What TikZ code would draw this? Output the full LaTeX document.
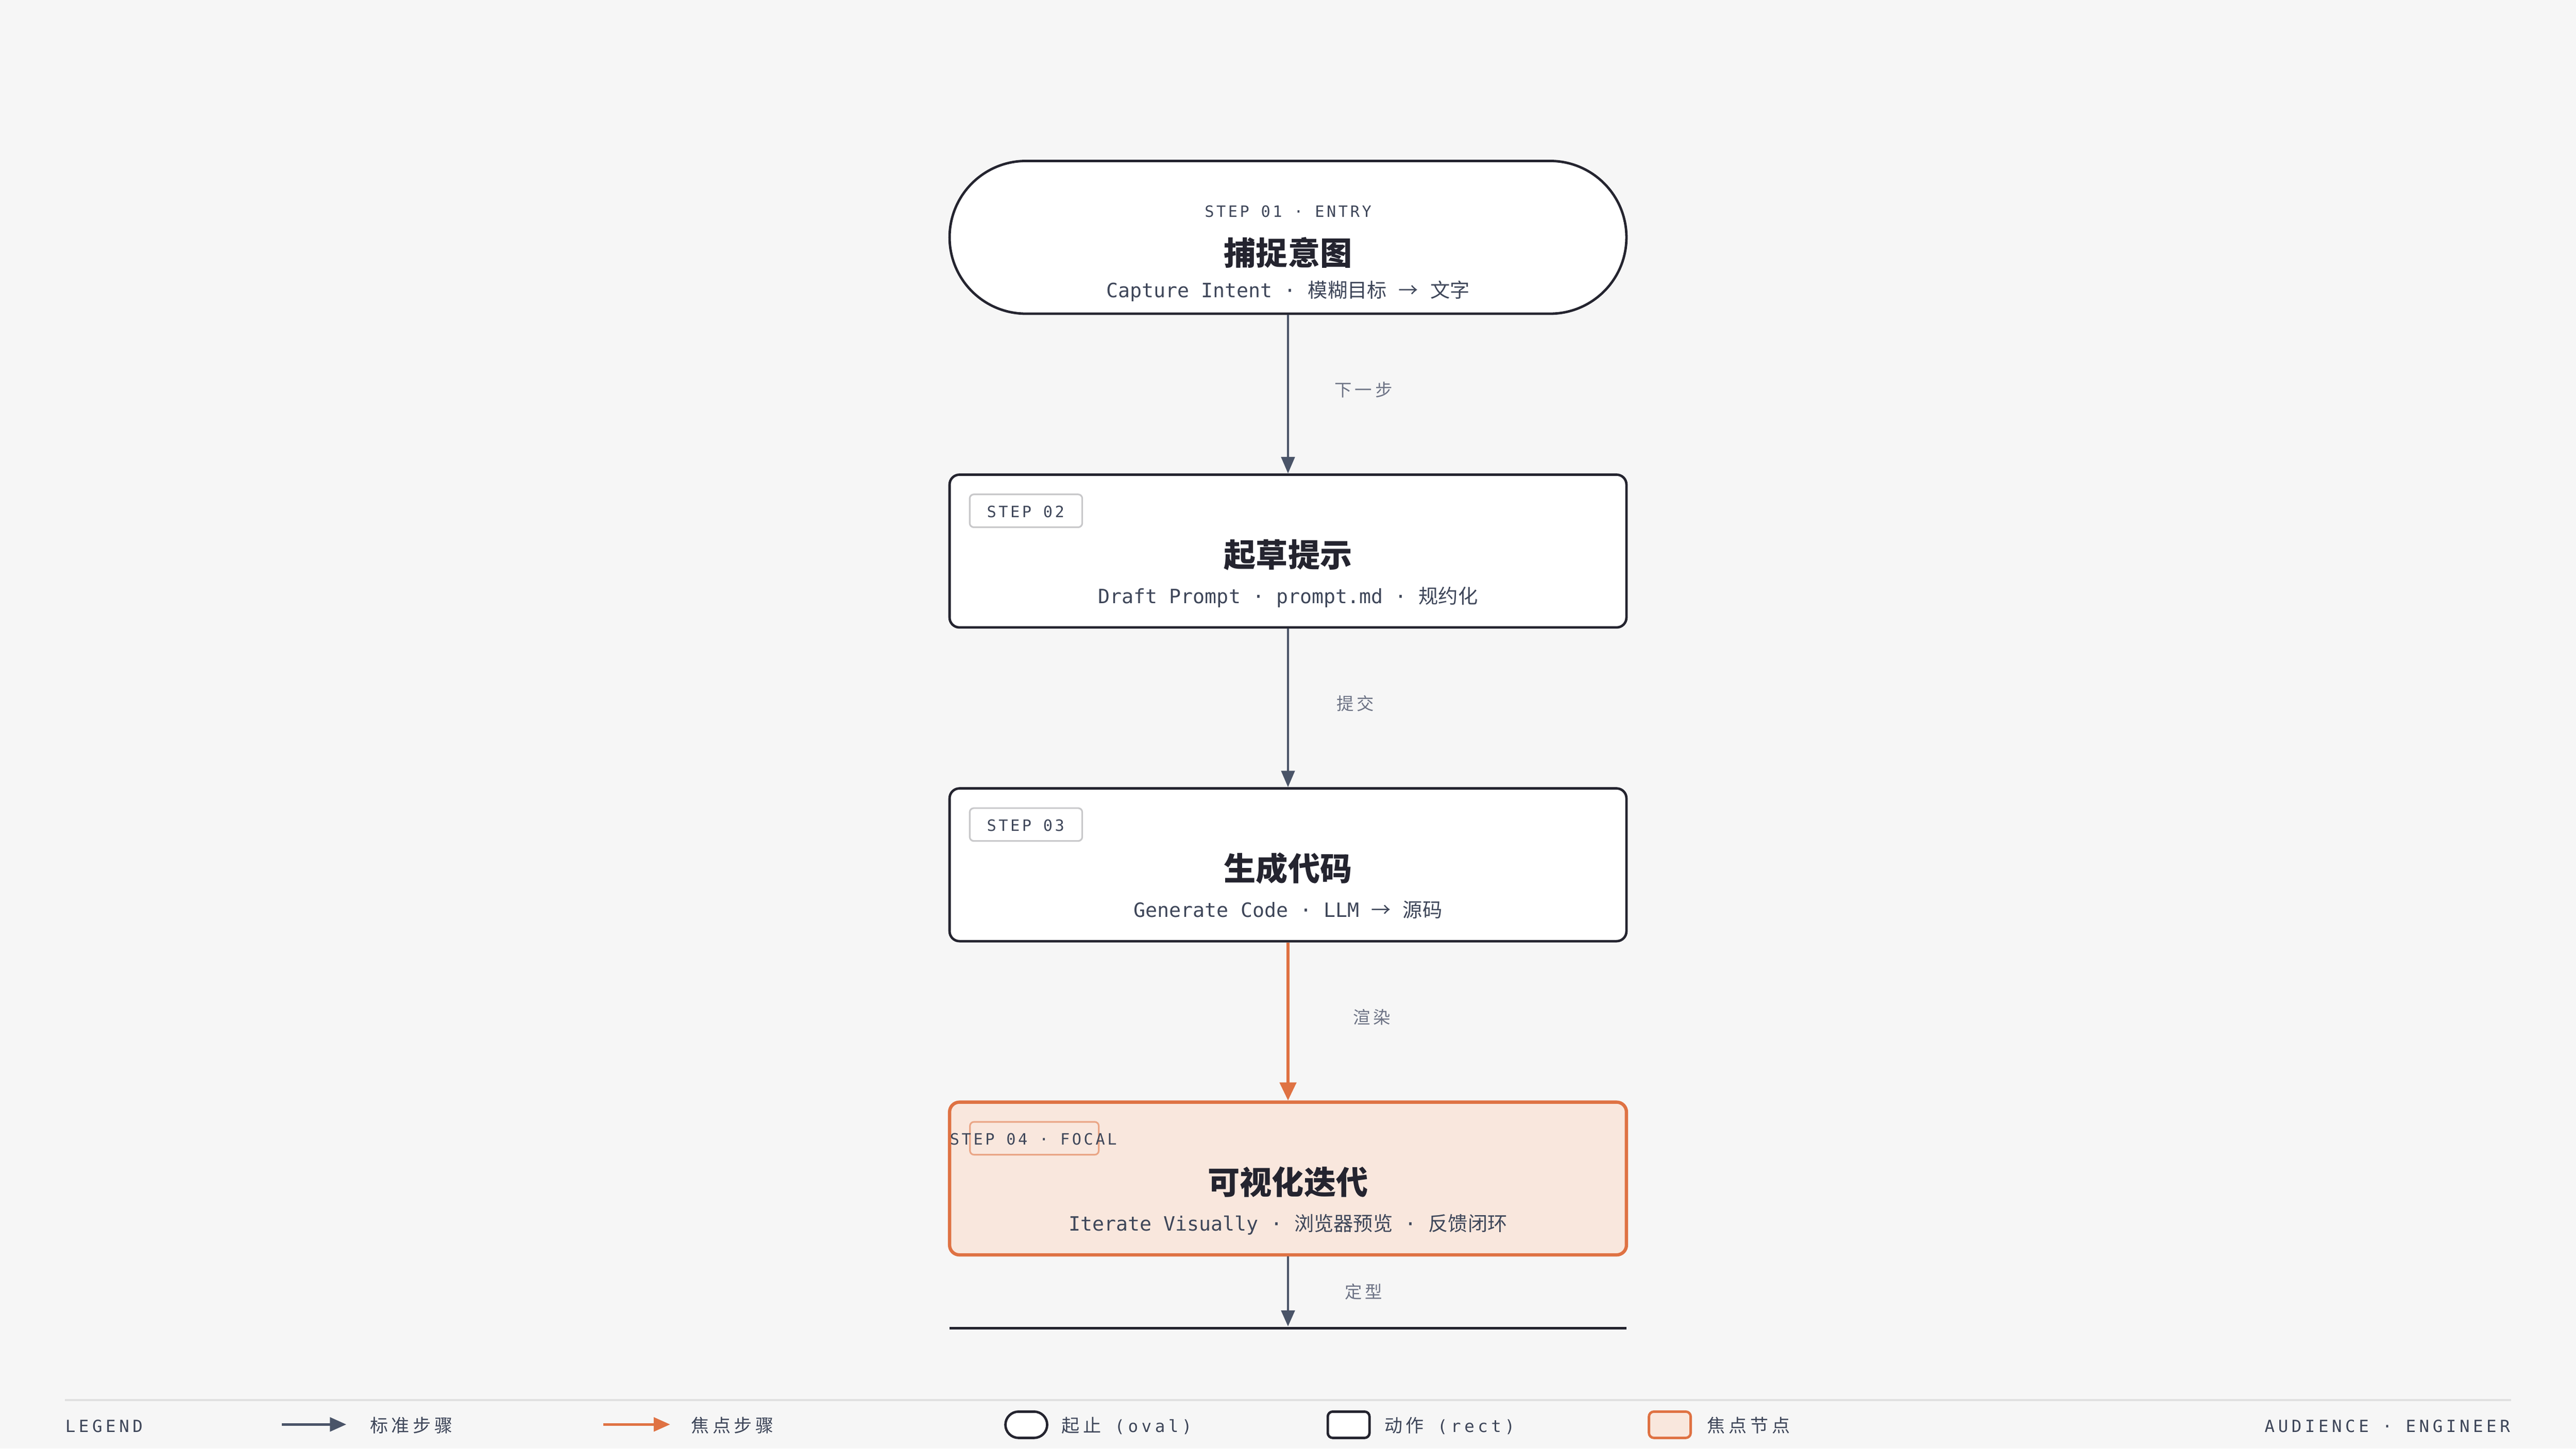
\documentclass[tikz,border=0pt]{standalone}
\usepackage{fontspec}
\usetikzlibrary{arrows.meta}
\setmonofont{DejaVu Sans Mono}
\newfontfamily\cjk{Noto Sans CJK SC}
\newfontfamily\cjkwide[LetterSpace=19]{Noto Sans CJK SC}
\newfontfamily\monowide[LetterSpace=15]{DejaVu Sans Mono}
\newfontfamily\monoleg[LetterSpace=20]{DejaVu Sans Mono}
\newcommand\zh[1]{{\cjk #1}}
\newcommand\legzh[1]{{\cjkwide\fontsize{11}{13}\selectfont #1}}
\definecolor{paper}{HTML}{F6F6F6}
\definecolor{ink}{HTML}{24242F}
\definecolor{slate}{HTML}{4A5468}
\definecolor{subink}{HTML}{3E4659}
\definecolor{mute}{HTML}{6D7385}
\definecolor{focal}{HTML}{DF7243}
\definecolor{peach}{HTML}{F9E7DD}
\definecolor{tagline}{HTML}{C8C8CA}
\definecolor{tagfocal}{HTML}{EAA686}
\definecolor{rulegray}{HTML}{E0E0E0}
\tikzset{
  box/.style={draw=ink, line width=1.5pt, fill=white, minimum width=412pt, minimum height=93pt, inner sep=0pt, rounded corners=6pt},
  ovalbox/.style={box, rounded corners=46.5pt},
  focalbox/.style={box, draw=focal, fill=peach, line width=2pt},
  tagbox/.style={draw=tagline, line width=1pt, fill=white, rounded corners=2.5pt, minimum width=68.5pt, minimum height=20pt, inner sep=0pt},
  tagtext/.style={anchor=base, inner sep=0pt, text=subink, font=\monowide\fontsize{9.5}{11}\selectfont},
  headline/.style={anchor=base, inner sep=0pt, text=ink, font=\cjk\bfseries\fontsize{19.5}{22}\selectfont},
  subline/.style={anchor=base, inner sep=0pt, text=subink, font=\ttfamily\fontsize{12}{14}\selectfont},
  elabel/.style={anchor=base, inner sep=0pt, text=mute, font=\cjkwide\fontsize{10.5}{12}\selectfont},
  flow/.style={draw=slate, line width=1.3pt, -{Triangle[length=10pt,width=8.2pt]}},
  hot/.style={draw=focal, line width=1.8pt, -{Triangle[length=11pt,width=10pt]}},
  legtext/.style={anchor=base west, inner sep=0pt, text=subink, font=\monoleg\fontsize{10.2}{12}\selectfont},
  legicon/.style={box, line width=1.5pt, minimum width=25.4pt, minimum height=16pt, rounded corners=3pt},
}
\begin{document}
\begin{tikzpicture}[x=1pt,y=1pt]
  \fill[paper] (0,0) rectangle (1568,882);
  \useasboundingbox (0,0) rectangle (1568,882);

  \node[ovalbox] (s1) at (784,737.5) {};
  \node[box] (s2) at (784,546.5) {};
  \node[box] (s3) at (784,355.5) {};
  \node[focalbox] (s4) at (784,164.5) {};
  \node[fill=ink, minimum width=412pt, minimum height=1.6pt, inner sep=0pt] (fin) at (784,73.5) {};

  \node[tagtext] (t1) at ([yshift=12.2pt]s1.center) {STEP 01 · ENTRY};
  \node[headline] (h1) at ([yshift=-16.9pt]s1.center) {捕捉意图};
  \node[subline] (d1) at ([yshift=-36.7pt]s1.center) {Capture Intent · \zh{模糊目标} \zh{→} \zh{文字}};

  \node[tagbox] (b2) at ([xshift=-159.5pt,yshift=24.5pt]s2.center) {};
  \node[tagtext] (t2) at ([xshift=-159.7pt,yshift=20.6pt]s2.center) {STEP 02};
  \node[headline] (h2) at ([yshift=-9.7pt]s2.center) {起草提示};
  \node[subline] (d2) at ([yshift=-32pt]s2.center) {Draft Prompt · prompt.md · \zh{规约化}};

  \node[tagbox] (b3) at ([xshift=-159.5pt,yshift=24.5pt]s3.center) {};
  \node[tagtext] (t3) at ([xshift=-159.7pt,yshift=20.6pt]s3.center) {STEP 03};
  \node[headline] (h3) at ([yshift=-9.7pt]s3.center) {生成代码};
  \node[subline] (d3) at ([yshift=-32pt]s3.center) {Generate Code · LLM \zh{→} \zh{源码}};

  \node[tagbox, draw=tagfocal, fill=peach, minimum width=78.4pt] (b4) at ([xshift=-154.4pt,yshift=24.5pt]s4.center) {};
  \node[tagtext] (t4) at ([xshift=-155pt,yshift=20.6pt]s4.center) {STEP 04 · FOCAL};
  \node[headline] (h4) at ([yshift=-9.7pt]s4.center) {可视化迭代};
  \node[subline] (d4) at ([yshift=-32pt]s4.center) {Iterate Visually · \zh{浏览器预览} · \zh{反馈闭环}};

  \draw[flow] (s1) -- (s2) node[elabel, midway, xshift=46pt, yshift=-1.3pt] (e1) {下一步};
  \draw[flow] (s2) -- (s3) node[elabel, midway, xshift=41pt, yshift=-1.3pt] (e2) {提交};
  \draw[hot] (s3) -- (s4) node[elabel, midway, xshift=51pt, yshift=-1.3pt] (e3) {渲染};
  \draw[flow, line width=1.2pt, -{Triangle[length=9.7pt,width=8.3pt]}] (s4) -- (fin) node[elabel, midway, xshift=46pt, yshift=-4.3pt] (e4) {定型};

  \draw[rulegray, line width=1.3pt] (39.6,29.5) -- (1528.5,29.5);
  \node[legtext] (lg) at (39.6,10) {LEGEND};
  \coordinate (la) at (171.6,14.8);
  \draw[flow, line width=1.5pt, -{Triangle[length=10pt,width=8.5pt]}] (la) -- ++(39.2,0);
  \node[legtext] (l1) at (225,10) {\legzh{标准步骤}};
  \coordinate (lb) at (367.2,14.8);
  \draw[hot, line width=1.5pt, -{Triangle[length=10pt,width=8.5pt]}] (lb) -- ++(40.7,0);
  \node[legtext] (l2) at (420.5,10) {\legzh{焦点步骤}};
  \node[legicon, rounded corners=8pt] (i1) at (624.7,14.6) {};
  \node[legtext] (l3) at (646,10) {\legzh{起止} (oval)};
  \node[legicon] (i2) at (820.9,14.6) {};
  \node[legtext] (l4) at (842.5,10) {\legzh{动作} (rect)};
  \node[legicon, draw=focal, fill=peach] (i3) at (1016.4,14.6) {};
  \node[legtext] (l5) at (1039,10) {\legzh{焦点节点}};
  \node[legtext, anchor=base east] (au) at (1528,10) {AUDIENCE · ENGINEER};
\end{tikzpicture}
\end{document}
